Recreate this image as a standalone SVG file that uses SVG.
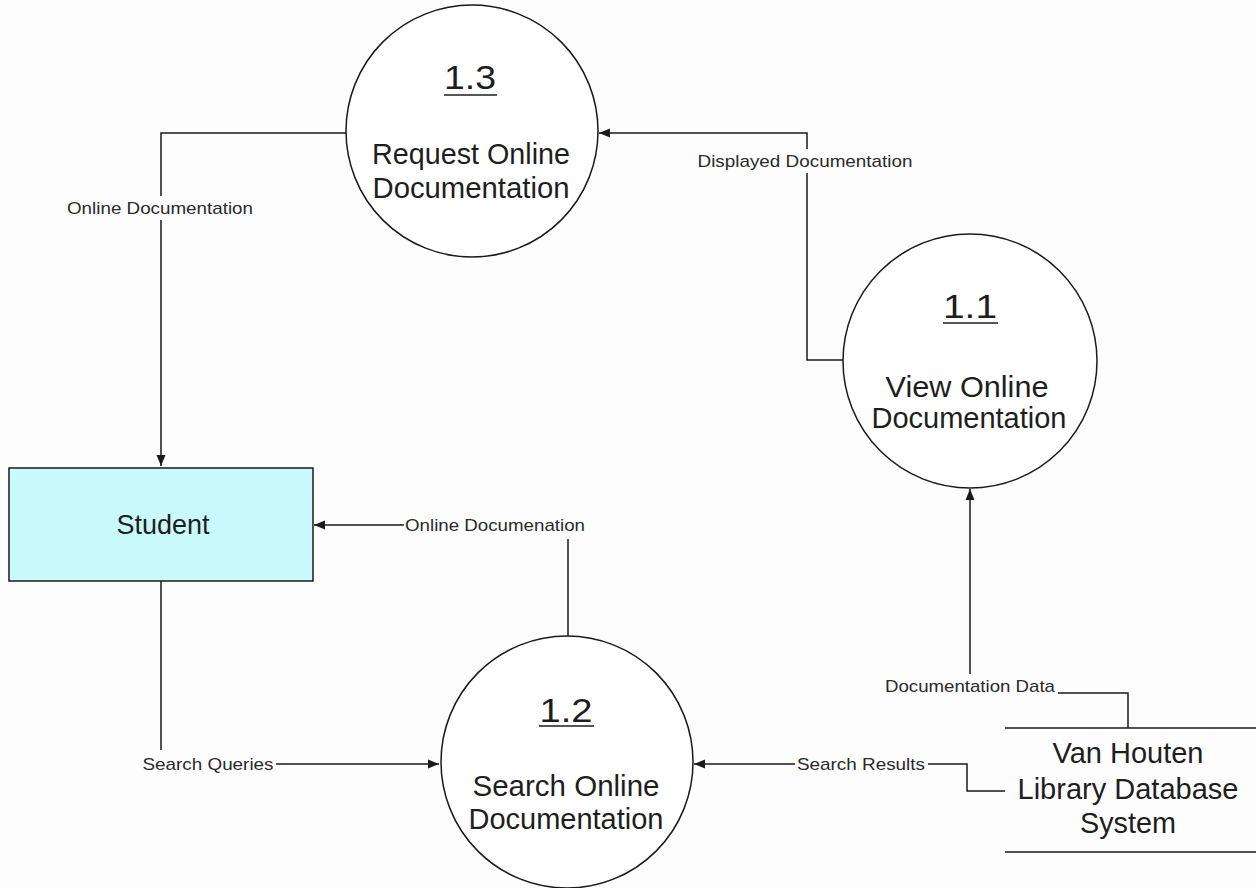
<svg xmlns="http://www.w3.org/2000/svg" width="1256" height="888" viewBox="0 0 1256 888">
  <style>
    .bg { fill: #fdfdfd; }
    .proc { fill: #ffffff; stroke: #1a1a1a; stroke-width: 1.5; }
    .ent { fill: #c9fafc; stroke: #1a1a1a; stroke-width: 1.5; }
    .ds { stroke: #1a1a1a; stroke-width: 1.6; fill: none; }
    .conn { fill: none; stroke: #1a1a1a; stroke-width: 1.5; }
    .t { font-family: "Liberation Sans", Arial, sans-serif; fill: #1e1e1e; text-anchor: middle; }
    .num { font-size: 33px; }
    .big { font-size: 30px; }
    .lbl { font-size: 17px; fill: #2a2a2a; }
    .ul { stroke: #1e1e1e; stroke-width: 1.6; }
    .mask { fill: #fdfdfd; }
  </style>
  <defs>
    <marker id="arr" markerWidth="12" markerHeight="10" refX="11" refY="5" orient="auto" markerUnits="userSpaceOnUse">
      <path d="M0,0.5 L11,5 L0,9.5 z" fill="#1a1a1a"/>
    </marker>
  </defs>
  <rect class="bg" x="0" y="0" width="1256" height="888"/>

  <g id="connectors">
    <path class="conn" d="M346,133 H161 V466" marker-end="url(#arr)"/>
    <rect class="mask" x="64" y="196" width="194" height="24"/>
    <text class="t lbl" x="160" y="214" textLength="186" lengthAdjust="spacingAndGlyphs">Online Documentation</text>

    <path class="conn" d="M843,360 H807 V133 H599" marker-end="url(#arr)"/>
    <rect class="mask" x="694" y="149" width="222" height="24"/>
    <text class="t lbl" x="805" y="167" textLength="215" lengthAdjust="spacingAndGlyphs">Displayed Documentation</text>

    <path class="conn" d="M568,637 V525 H314" marker-end="url(#arr)"/>
    <rect class="mask" x="404" y="512" width="184" height="27"/>
    <text class="t lbl" x="495" y="531" textLength="180" lengthAdjust="spacingAndGlyphs">Online Documenation</text>

    <path class="conn" d="M161,581 V764 H439" marker-end="url(#arr)"/>
    <rect class="mask" x="141" y="750" width="135" height="24"/>
    <text class="t lbl" x="208" y="770" textLength="131" lengthAdjust="spacingAndGlyphs">Search Queries</text>

    <path class="conn" d="M1005,791 H967 V764 H694" marker-end="url(#arr)"/>
    <rect class="mask" x="795" y="750" width="133" height="24"/>
    <text class="t lbl" x="861" y="770" textLength="128" lengthAdjust="spacingAndGlyphs">Search Results</text>

    <path class="conn" d="M1128,728 V693 H1058"/>
    <path class="conn" d="M970,674 V489" marker-end="url(#arr)"/>
    <text class="t lbl" x="970" y="692" textLength="170" lengthAdjust="spacingAndGlyphs">Documentation Data</text>
  </g>

  <g id="p13">
    <circle class="proc" cx="472" cy="131" r="126"/>
    <text class="t num" x="470" y="89" textLength="52" lengthAdjust="spacingAndGlyphs">1.3</text>
    <line class="ul" x1="444" y1="95" x2="497" y2="95"/>
    <text class="t big" x="471" y="164" textLength="198" lengthAdjust="spacingAndGlyphs">Request Online</text>
    <text class="t big" x="471" y="198" textLength="197" lengthAdjust="spacingAndGlyphs">Documentation</text>
  </g>

  <g id="p11">
    <circle class="proc" cx="970" cy="361" r="127"/>
    <text class="t num" x="970" y="318" textLength="54" lengthAdjust="spacingAndGlyphs">1.1</text>
    <line class="ul" x1="943" y1="323" x2="998" y2="323"/>
    <text class="t big" x="967" y="397" textLength="163" lengthAdjust="spacingAndGlyphs">View Online</text>
    <text class="t big" x="969" y="428" textLength="195" lengthAdjust="spacingAndGlyphs">Documentation</text>
  </g>

  <g id="p12">
    <circle class="proc" cx="567" cy="762" r="126"/>
    <text class="t num" x="566" y="722" textLength="53" lengthAdjust="spacingAndGlyphs">1.2</text>
    <line class="ul" x1="539" y1="726" x2="594" y2="726"/>
    <text class="t big" x="566" y="796" textLength="187" lengthAdjust="spacingAndGlyphs">Search Online</text>
    <text class="t big" x="566" y="829" textLength="195" lengthAdjust="spacingAndGlyphs">Documentation</text>
  </g>

  <g id="student">
    <rect class="ent" x="9" y="468" width="304" height="113"/>
    <text class="t big" x="163" y="534" style="font-size:28px" textLength="93" lengthAdjust="spacingAndGlyphs">Student</text>
  </g>

  <g id="datastore">
    <line class="ds" x1="1005" y1="728" x2="1256" y2="728"/>
    <line class="ds" x1="1005" y1="852" x2="1256" y2="852"/>
    <text class="t big" x="1128" y="763" textLength="151" lengthAdjust="spacingAndGlyphs">Van Houten</text>
    <text class="t big" x="1128" y="799" textLength="221" lengthAdjust="spacingAndGlyphs">Library Database</text>
    <text class="t big" x="1128" y="833" textLength="96" lengthAdjust="spacingAndGlyphs">System</text>
  </g>
</svg>
